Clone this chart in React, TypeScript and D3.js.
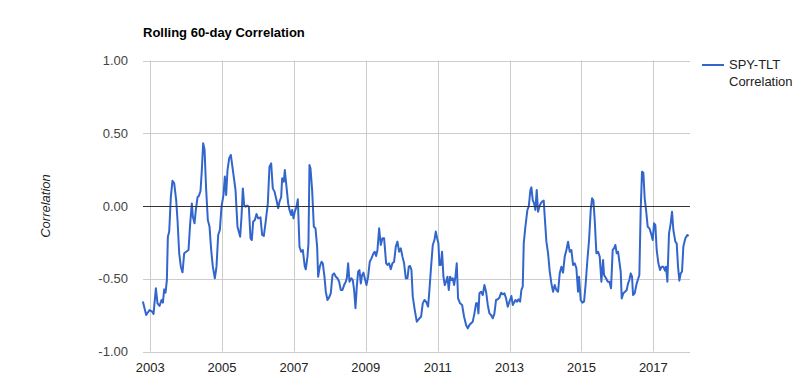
import React from "react";
import * as d3 from "d3";

// chart text
const chartTitle = "Rolling 60-day Correlation";
const yAxisTitle = "Correlation";
const legendLines = ["SPY-TLT", "Correlation"];

// axis ticks
const yTicks = [-1, -0.5, 0, 0.5, 1];
const xTicks = [2003, 2005, 2007, 2009, 2011, 2013, 2015, 2017];

// sample times (decimal years)
const years = [
  2002.796, 2002.889, 2002.982, 2003.056, 2003.093, 2003.158, 2003.204, 2003.26, 2003.315, 2003.353,
  2003.39, 2003.427, 2003.464, 2003.492, 2003.529, 2003.575, 2003.621, 2003.668, 2003.723, 2003.76,
  2003.807, 2003.853, 2003.9, 2003.946, 2004.002, 2004.066, 2004.113, 2004.159, 2004.187, 2004.233,
  2004.27, 2004.317, 2004.354, 2004.4, 2004.437, 2004.474, 2004.512, 2004.558, 2004.604, 2004.651,
  2004.697, 2004.743, 2004.799, 2004.845, 2004.892, 2004.938, 2004.984, 2005.04, 2005.077, 2005.114,
  2005.151, 2005.198, 2005.244,
  2005.374, 2005.429, 2005.504, 2005.541, 2005.578, 2005.615, 2005.652, 2005.698, 2005.745, 2005.791,
  2005.828, 2005.865, 2005.912, 2005.958, 2006.004, 2006.069, 2006.115, 2006.162, 2006.208, 2006.273,
  2006.319, 2006.366, 2006.412, 2006.459, 2006.514, 2006.561, 2006.598, 2006.644, 2006.672, 2006.718,
  2006.746, 2006.792, 2006.839, 2006.876, 2006.922, 2006.95, 2006.987, 2007.024, 2007.071, 2007.108,
  2007.154, 2007.2, 2007.247, 2007.302, 2007.33, 2007.376, 2007.404, 2007.432, 2007.46, 2007.506,
  2007.553, 2007.599, 2007.645, 2007.673, 2007.72, 2007.766, 2007.803, 2007.849,
  2007.886, 2007.933, 2007.979, 2008.025, 2008.072, 2008.118, 2008.165, 2008.211, 2008.257, 2008.304,
  2008.35, 2008.396, 2008.443, 2008.471, 2008.508, 2008.545, 2008.6, 2008.637, 2008.674, 2008.712,
  2008.749, 2008.786, 2008.823, 2008.86, 2008.897, 2008.934, 2008.971, 2009.018, 2009.064, 2009.11,
  2009.157, 2009.212, 2009.249, 2009.286, 2009.324, 2009.37, 2009.416, 2009.463, 2009.509, 2009.565,
  2009.602, 2009.648, 2009.694, 2009.741, 2009.787, 2009.834, 2009.88, 2009.926, 2009.973, 2010.019,
  2010.065, 2010.112, 2010.158, 2010.195, 2010.232, 2010.269, 2010.306, 2010.362, 2010.418,
  2010.492, 2010.538, 2010.584, 2010.631, 2010.677, 2010.733, 2010.77, 2010.816, 2010.863, 2010.909,
  2010.946, 2010.983, 2011.02, 2011.048, 2011.085, 2011.122, 2011.159, 2011.196, 2011.233, 2011.271,
  2011.308, 2011.345, 2011.382, 2011.419, 2011.456, 2011.493, 2011.53, 2011.567, 2011.623, 2011.679,
  2011.734, 2011.79, 2011.836, 2011.883, 2011.929, 2011.975, 2012.022, 2012.068, 2012.105, 2012.133,
  2012.161, 2012.207, 2012.253, 2012.3, 2012.346, 2012.393, 2012.439, 2012.485, 2012.532, 2012.578,
  2012.624, 2012.671, 2012.717, 2012.763, 2012.81, 2012.856, 2012.902, 2012.949,
  2013.004, 2013.051, 2013.088, 2013.125, 2013.162, 2013.208, 2013.245, 2013.292, 2013.329, 2013.366,
  2013.394, 2013.44, 2013.496, 2013.533, 2013.579, 2013.607, 2013.644, 2013.681, 2013.718, 2013.755,
  2013.792, 2013.83, 2013.867, 2013.904, 2013.95, 2013.978, 2014.024, 2014.071, 2014.117, 2014.163,
  2014.21, 2014.256, 2014.302, 2014.349, 2014.395, 2014.442, 2014.488, 2014.534, 2014.581, 2014.627,
  2014.673, 2014.72, 2014.766, 2014.812, 2014.859, 2014.905, 2014.933, 2014.979, 2015.026, 2015.072,
  2015.118, 2015.165, 2015.211, 2015.258, 2015.295, 2015.332, 2015.369, 2015.415, 2015.461, 2015.508,
  2015.554, 2015.601,
  2015.628, 2015.684, 2015.73, 2015.777, 2015.823, 2015.869, 2015.906, 2015.944, 2015.981, 2016.018,
  2016.055, 2016.092, 2016.12, 2016.166, 2016.212, 2016.259, 2016.296, 2016.333, 2016.37, 2016.407,
  2016.435, 2016.481, 2016.537, 2016.583, 2016.611, 2016.648, 2016.685, 2016.722, 2016.759, 2016.797,
  2016.843, 2016.889, 2016.936, 2016.982, 2017.019, 2017.056, 2017.093, 2017.14, 2017.186, 2017.232,
  2017.279, 2017.325, 2017.353, 2017.39, 2017.436, 2017.483, 2017.52, 2017.557, 2017.612, 2017.65,
  2017.687, 2017.724, 2017.761, 2017.798, 2017.835, 2017.891, 2017.946, 2017.983,
];

// SPY-TLT rolling correlation at those times
const values = [
  -0.657, -0.749, -0.715, -0.726, -0.742, -0.566, -0.669, -0.687, -0.646, -0.664,
  -0.573, -0.596, -0.509, -0.211, -0.176, 0.064, 0.174, 0.156, 0.041, -0.096,
  -0.325, -0.417, -0.456, -0.325, -0.314, -0.302, -0.119, 0.018, -0.073, -0.119,
  -0.027, 0.06, 0.069, 0.103, 0.247, 0.431, 0.389, 0.11, -0.096, -0.142,
  -0.302, -0.417, -0.497, -0.417, -0.199, -0.165, -0.005, 0.076, 0.202, 0.076,
  0.247, 0.328, 0.351,
  0.11, -0.142, -0.211, -0.073, 0.121, 0.007, -0.005, 0.002, -0.005, -0.222,
  -0.234, -0.108, -0.096, -0.055, -0.085, -0.078, -0.199, -0.206, -0.119, 0.018,
  0.27, 0.293, 0.121, 0.099, 0.041, -0.016, 0.03, 0.06, 0.19, 0.167,
  0.247, 0.133, 0.018, -0.027, -0.062, -0.027, -0.085, -0.039, -0.005, 0.046,
  -0.279, -0.314, -0.302, -0.417, -0.435, -0.348, -0.257, 0.282, 0.259, 0.11,
  -0.142, -0.153, -0.279, -0.486, -0.417, -0.383, -0.394, -0.486,
  -0.589, -0.646, -0.628, -0.6, -0.474, -0.463, -0.486, -0.497, -0.52, -0.577,
  -0.577, -0.543, -0.52, -0.497, -0.394, -0.52, -0.497, -0.509, -0.577, -0.703,
  -0.554, -0.451, -0.44, -0.532, -0.474, -0.458, -0.497, -0.543, -0.486, -0.383,
  -0.36, -0.325, -0.314, -0.344, -0.302, -0.153, -0.268, -0.222, -0.222, -0.394,
  -0.405, -0.394, -0.435, -0.394, -0.383, -0.279, -0.245, -0.314, -0.291, -0.348,
  -0.394, -0.497, -0.497, -0.417, -0.412, -0.44, -0.623, -0.715, -0.795,
  -0.772, -0.761, -0.669, -0.646, -0.658, -0.692, -0.577, -0.417, -0.268, -0.234,
  -0.176, -0.222, -0.257, -0.405, -0.405, -0.314, -0.486, -0.543, -0.52, -0.486,
  -0.577, -0.486, -0.509, -0.497, -0.543, -0.486, -0.394, -0.635, -0.669, -0.68,
  -0.761, -0.818, -0.841, -0.818, -0.806, -0.795, -0.738, -0.669, -0.669, -0.738,
  -0.6, -0.589, -0.612, -0.543, -0.589, -0.68, -0.738, -0.749, -0.772, -0.738,
  -0.646, -0.641, -0.63, -0.596, -0.607, -0.6, -0.635, -0.692,
  -0.651, -0.619, -0.68, -0.664, -0.646, -0.658, -0.641, -0.658, -0.577, -0.554,
  -0.257, -0.142, -0.027, -0.005, 0.11, 0.128, 0.041, 0.018, -0.027, 0.11,
  -0.039, -0.005, 0.018, 0.03, 0.037, -0.073, -0.245, -0.325, -0.451, -0.532,
  -0.589, -0.543, -0.577, -0.589, -0.463, -0.417, -0.458, -0.348, -0.302, -0.245,
  -0.314, -0.302, -0.405, -0.394, -0.428, -0.589, -0.486, -0.646, -0.664, -0.658,
  -0.532, -0.371, -0.234, -0.027, 0.053, 0.037, -0.096, -0.325, -0.314, -0.348,
  -0.52, -0.371,
  -0.474, -0.497, -0.52, -0.52, -0.566, -0.302, -0.291, -0.268, -0.325, -0.314,
  -0.383, -0.451, -0.635, -0.6, -0.589, -0.577, -0.532, -0.509, -0.463, -0.486,
  -0.612, -0.6, -0.532, -0.497, -0.474, -0.027, 0.236, 0.229, 0.053, -0.027,
  -0.142, -0.153, -0.188, -0.234, -0.119, -0.131, -0.302, -0.394, -0.44, -0.417,
  -0.417, -0.444, -0.417, -0.52, -0.188, -0.119, -0.039, -0.165, -0.245, -0.257,
  -0.417, -0.513, -0.463, -0.451, -0.279, -0.222, -0.199, -0.206,
];

const W = 800;
const H = 389;
const font = "'Liberation Sans', Arial, sans-serif";

export default function App() {
  const x = d3.scaleLinear().domain([2002.8, 2018.02]).range([143, 690]);
  const y = d3.scaleLinear().domain([-1, 1]).range([351.5, 60.5]);
  const [x0, x1] = x.range();

  const points: [number, number][] = years.map((t, i) => [t, values[i]]);
  const line = d3
    .line<[number, number]>()
    .x((d) => x(d[0]))
    .y((d) => y(d[1]));

  // plain hyphen for negatives, like the original
  const fmt = (v: number) => d3.format(".2f")(v).replace("\u2212", "-");
  const snap = (v: number) => Math.round(v) + 0.5;

  return (
    <div style={{ position: "fixed", left: 0, top: 0 }}>
      <svg width={W} height={H} style={{ display: "block", background: "#fff" }} fontFamily={font}>
        {/* title */}
        <text x={143} y={37} fontSize={13} fontWeight="bold" fill="#000">
          {chartTitle}
        </text>

        {/* vertical grid */}
        {xTicks.map((t) => (
          <line key={"vx" + t} x1={snap(x(t))} x2={snap(x(t))} y1={y(1)} y2={y(-1)} stroke="#cccccc" strokeWidth={1} />
        ))}
        {/* horizontal grid */}
        {yTicks
          .filter((v) => v !== 0)
          .map((v) => (
            <line key={"hy" + v} x1={x0} x2={x1} y1={snap(y(v))} y2={snap(y(v))} stroke="#cccccc" strokeWidth={1} />
          ))}

        {/* series */}
        <path d={line(points) as string} fill="none" stroke="#3366cc" strokeWidth={2} strokeLinejoin="round" />

        {/* zero baseline */}
        <line x1={x0} x2={x1} y1={snap(y(0))} y2={snap(y(0))} stroke="#333333" strokeWidth={1} />

        {/* y tick labels */}
        {yTicks.map((v) => (
          <text key={"ty" + v} x={128} y={y(v) + 4.5} fontSize={13} fill="#444" textAnchor="end">
            {fmt(v)}
          </text>
        ))}
        {/* x tick labels */}
        {xTicks.map((t) => (
          <text key={"tx" + t} x={x(t)} y={372} fontSize={13} fill="#222" textAnchor="middle">
            {t}
          </text>
        ))}

        {/* y axis title */}
        <text
          transform={`translate(50, ${y(0)}) rotate(-90)`}
          fontSize={13}
          fontStyle="italic"
          fill="#222"
          textAnchor="middle"
        >
          {yAxisTitle}
        </text>

        {/* legend */}
        <line x1={702} x2={724} y1={65} y2={65} stroke="#3366cc" strokeWidth={2} />
        {legendLines.map((s, i) => (
          <text key={s} x={729} y={69 + i * 17} fontSize={13} fill="#222">
            {s}
          </text>
        ))}
      </svg>
    </div>
  );
}
